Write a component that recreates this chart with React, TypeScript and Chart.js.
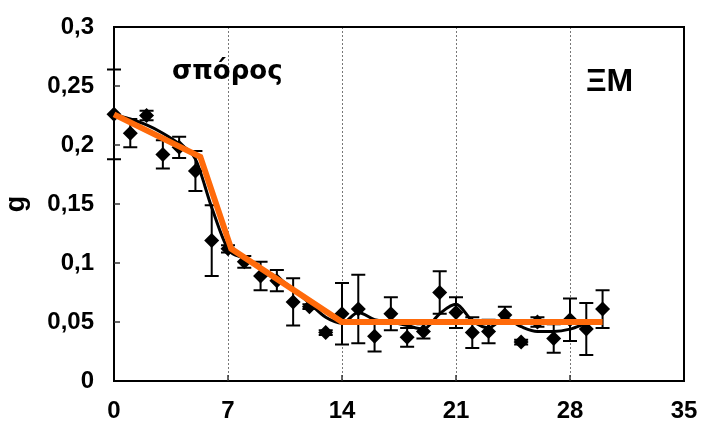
import React, { useEffect, useRef } from "react";
import { Chart, registerables } from "chart.js";

Chart.register(...registerables);

const days = [0,1,2,3,4,5,6,7,8,9,10,11,12,13,14,15,16,17,18,19,20,21,22,23,24,25,26,27,28,29,30];
const means = [0.226,0.210,0.225,0.192,0.198,0.178,0.119,0.112,0.101,0.089,0.085,0.067,0.063,0.041,0.057,0.061,0.038,0.057,0.037,0.042,0.075,0.058,0.041,0.042,0.056,0.033,0.050,0.036,0.052,0.044,0.061];
const errors = [0.038,0.012,0.004,0.012,0.009,0.017,0.030,0.003,0.005,0.012,0.009,0.020,0.002,0.002,0.026,0.029,0.013,0.014,0.008,0.006,0.018,0.013,0.013,0.010,0.007,0.002,0.004,0.012,0.018,0.022,0.016];
const smoothDays = [0,1,2,3,4,5,6,7,8,9,10,11,12,13,14,15,16,17,18,19,20,21,22,23,24,25,26,27,28,29];
const smoothValues = [0.226,0.222,0.217,0.210,0.201,0.188,0.147,0.112,0.104,0.096,0.088,0.078,0.066,0.054,0.049,0.058,0.052,0.050,0.047,0.044,0.057,0.065,0.051,0.045,0.053,0.046,0.042,0.042,0.044,0.049];
const fitDays = [0,5.3,7.2,14,30];
const fitValues = [0.226,0.19,0.112,0.05,0.05];
const xTicks = [0,7,14,21,28,35];
const yTickLabels = ["0","0,05","0,1","0,15","0,2","0,25","0,3"];
const yTitle = "g";
const label1 = "σπόρος";
const label2 = "ΞΜ";

const errorBarPlugin = {
  id: "errorBars",
  beforeDatasetsDraw(chart: any) {
    const { ctx, scales } = chart;
    const xs = scales.x, ys = scales.y;
    ctx.save();
    ctx.strokeStyle = "#000";
    ctx.lineWidth = 2;
    days.forEach((d, i) => {
      const e = errors[i];
      const x = xs.getPixelForValue(d);
      const y1 = ys.getPixelForValue(means[i] + e);
      const y2 = ys.getPixelForValue(means[i] - e);
      ctx.beginPath();
      ctx.moveTo(x, y1); ctx.lineTo(x, y2);
      ctx.moveTo(x - 7, y1); ctx.lineTo(x + 7, y1);
      ctx.moveTo(x - 7, y2); ctx.lineTo(x + 7, y2);
      ctx.stroke();
    });
    ctx.restore();
  },
};

const framePlugin = {
  id: "frame",
  afterDraw(chart: any) {
    const { ctx, chartArea: a, scales } = chart;
    ctx.save();
    ctx.strokeStyle = "#000";
    ctx.lineWidth = 2;
    ctx.beginPath();
    ctx.moveTo(a.left, a.top); ctx.lineTo(a.right, a.top); ctx.lineTo(a.right, a.bottom);
    ctx.stroke();
    ctx.lineWidth = 1.5;
    ctx.strokeStyle = "#333";
    for (let i = 1; i < yTickLabels.length - 1; i++) {
      const y = scales.y.getPixelForValue(i * 0.05);
      ctx.beginPath(); ctx.moveTo(a.left, y); ctx.lineTo(a.left + 6, y); ctx.stroke();
    }
    for (let i = 1; i < xTicks.length - 1; i++) {
      const x = scales.x.getPixelForValue(xTicks[i]);
      ctx.beginPath(); ctx.moveTo(x, a.bottom); ctx.lineTo(x, a.bottom - 6); ctx.stroke();
    }
    ctx.fillStyle = "#000";
    ctx.textAlign = "left";
    ctx.textBaseline = "alphabetic";
    ctx.font = "bold 26px 'DejaVu Sans'";
    ctx.fillText(label1, 172, 79);
    ctx.font = "bold 32px 'Liberation Sans'";
    ctx.fillText(label2, 586, 91);
    ctx.restore();
  },
};

export default function App() {
  const ref = useRef<HTMLCanvasElement>(null);
  useEffect(() => {
    document.body.style.margin = "0";
    const tickFont = { family: "'Liberation Sans', Arial, sans-serif", size: 24, weight: "bold" as const };
    const chart = new Chart(ref.current!, {
      type: "scatter",
      data: {
        datasets: [
          {
            label: "mean",
            data: days.map((d, i) => ({ x: d, y: means[i] })),
            pointStyle: "rectRot",
            pointRadius: 7.5,
            backgroundColor: "#000",
            borderColor: "#000",
            borderWidth: 0,
            showLine: false,
            clip: false as any,
            order: 3,
          },
          {
            label: "smooth",
            data: smoothDays.map((d, i) => ({ x: d, y: smoothValues[i] })),
            showLine: true,
            borderColor: "#000",
            borderWidth: 3,
            pointRadius: 0,
            cubicInterpolationMode: "monotone",
            clip: false as any,
            order: 2,
          },
          {
            label: "fit",
            data: fitDays.map((d, i) => ({ x: d, y: fitValues[i] })),
            showLine: true,
            borderColor: "#FF6A0A",
            borderWidth: 6,
            pointRadius: 0,
            tension: 0,
            clip: false as any,
            order: 1,
          },
        ],
      },
      options: {
        responsive: false,
        animation: false,
        layout: { padding: { top: 27, right: 17, left: 0, bottom: 0 } },
        plugins: { legend: { display: false }, tooltip: { enabled: false } },
        scales: {
          x: {
            type: "linear",
            min: 0,
            max: 35,
            afterBuildTicks: (s: any) => { s.ticks = xTicks.map((v) => ({ value: v })); },
            afterFit: (s: any) => { s.height = 44; s.paddingLeft = 0; s.paddingRight = 0; },
            ticks: { font: tickFont, color: "#000", padding: 16, maxRotation: 0, autoSkip: false },
            grid: {
              drawTicks: false,
              color: (c: any) => (c.tick && (c.tick.value === 0 || c.tick.value === 35) ? "rgba(0,0,0,0)" : "#777"),
              lineWidth: 1,
            },
            border: { display: true, color: "#000", width: 2, dash: [2, 2] as any },
          },
          y: {
            type: "linear",
            min: 0,
            max: 0.3,
            afterBuildTicks: (s: any) => { s.ticks = yTickLabels.map((_, i) => ({ value: i * 0.05 })); },
            afterFit: (s: any) => { s.width = 114; s.paddingTop = 0; s.paddingBottom = 0; },
            ticks: {
              font: tickFont,
              color: "#000",
              padding: 20,
              callback: (_v: any, i: number) => yTickLabels[i],
            },
            grid: { display: false, drawTicks: false },
            border: { display: true, color: "#000", width: 2 },
            title: { display: true, text: yTitle, color: "#000", padding: { top: 0, bottom: 0 }, font: { family: "'Liberation Sans', Arial, sans-serif", size: 27, weight: "bold" } },
          },
        },
      },
      plugins: [errorBarPlugin, framePlugin],
    });
    return () => chart.destroy();
  }, []);
  return <canvas ref={ref} width={701} height={425} style={{ display: "block" }} />;
}
